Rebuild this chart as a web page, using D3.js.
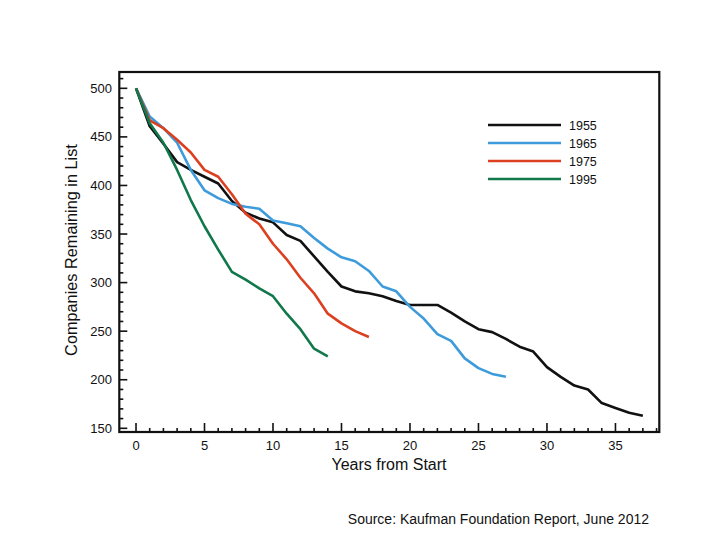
<!DOCTYPE html>
<html>
<head>
<meta charset="utf-8">
<script src="https://cdn.jsdelivr.net/npm/d3@7"></script>
<style>
  html, body { margin: 0; padding: 0; background: #fff; }
  svg text { font-family: "Liberation Sans", Arial, Helvetica, sans-serif; fill: #111; }
</style>
</head>
<body>
<svg id="chart" width="720" height="540"></svg>
<script>
const seriesNames = ["1955", "1965", "1975", "1995"];
const seriesColors = ["#111111", "#3d9bdc", "#dc4020", "#10784a"];
const values1955 = [500, 461, 443, 424, 416, 409, 402, 384, 372, 366, 362, 349, 343, 327, 311, 296, 291, 289, 286, 281, 277, 277, 277, 269, 260, 252, 249, 242, 234, 229, 213, 203, 194, 190, 176, 171, 166, 163];
const values1965 = [500, 471, 459, 444, 416, 395, 387, 381, 378, 376, 364, 361, 358, 346, 335, 326, 322, 312, 296, 291, 275, 263, 247, 240, 222, 212, 206, 203];
const values1975 = [500, 467, 459, 447, 434, 416, 409, 391, 371, 360, 340, 324, 305, 289, 268, 258, 250, 244];
const values1995 = [500, 464, 444, 416, 385, 358, 334, 311, 303, 294, 286, 268, 252, 232, 224];
const xTicks = [0, 5, 10, 15, 20, 25, 30, 35];
const yTicks = [150, 200, 250, 300, 350, 400, 450, 500];
const xTitle = "Years from Start";
const yTitle = "Companies Remaining in List";
const sourceText = "Source: Kaufman Foundation Report, June 2012";

const allSeries = [values1955, values1965, values1975, values1995];

const svg = d3.select("#chart");
const pLeft = 119.3, pRight = 659.3, pTop = 72, pBottom = 432;

const x = d3.scaleLinear().domain([-1.22, 38.2]).range([pLeft, pRight]);
const y = d3.scaleLinear().domain([146.2, 516.8]).range([pBottom, pTop]);

const xMinor = d3.range(0, 39);
const yMinor = d3.range(150, 511, 10);

const g = svg.append("g");

g.selectAll(".xminor").data(xMinor).enter().append("line")
  .attr("x1", d => x(d)).attr("x2", d => x(d))
  .attr("y1", pBottom).attr("y2", d => pBottom - (d % 5 === 0 ? 9 : 4))
  .attr("stroke", "#111").attr("stroke-width", 1.6);

g.selectAll(".yminor").data(yMinor).enter().append("line")
  .attr("y1", d => y(d)).attr("y2", d => y(d))
  .attr("x1", pLeft).attr("x2", d => pLeft + (d % 50 === 0 ? 8 : 4))
  .attr("stroke", "#111").attr("stroke-width", 1.6);

g.selectAll(".xlab").data(xTicks).enter().append("text")
  .attr("x", d => x(d)).attr("y", 450)
  .attr("text-anchor", "middle").attr("font-size", 13)
  .text(d => d);

g.selectAll(".ylab").data(yTicks).enter().append("text")
  .attr("x", 112).attr("y", d => y(d) + 4.5)
  .attr("text-anchor", "end").attr("font-size", 13)
  .text(d => d);

g.append("rect")
  .attr("x", pLeft).attr("y", pTop)
  .attr("width", pRight - pLeft).attr("height", pBottom - pTop)
  .attr("fill", "none").attr("stroke", "#111").attr("stroke-width", 2.2);

const line = d3.line().x((d, i) => x(i)).y(d => y(d));
allSeries.forEach((vals, k) => {
  g.append("path")
    .datum(vals)
    .attr("d", line)
    .attr("fill", "none")
    .attr("stroke", seriesColors[k])
    .attr("stroke-width", 2.6)
    .attr("stroke-linejoin", "round");
});

const legendY = [125, 143, 161, 179];
seriesNames.forEach((name, k) => {
  g.append("line")
    .attr("x1", 488).attr("x2", 561)
    .attr("y1", legendY[k]).attr("y2", legendY[k])
    .attr("stroke", seriesColors[k]).attr("stroke-width", 2.6);
  g.append("text")
    .attr("x", 569).attr("y", legendY[k] + 4.5)
    .attr("font-size", 12.5).text(name);
});

g.append("text")
  .attr("x", 389).attr("y", 470)
  .attr("text-anchor", "middle").attr("font-size", 16)
  .text(xTitle);

g.append("text")
  .attr("transform", "translate(77,250) rotate(-90)")
  .attr("text-anchor", "middle").attr("font-size", 16.3)
  .text(yTitle);

g.append("text")
  .attr("x", 649).attr("y", 524)
  .attr("text-anchor", "end").attr("font-size", 14)
  .text(sourceText);
</script>
</body>
</html>
